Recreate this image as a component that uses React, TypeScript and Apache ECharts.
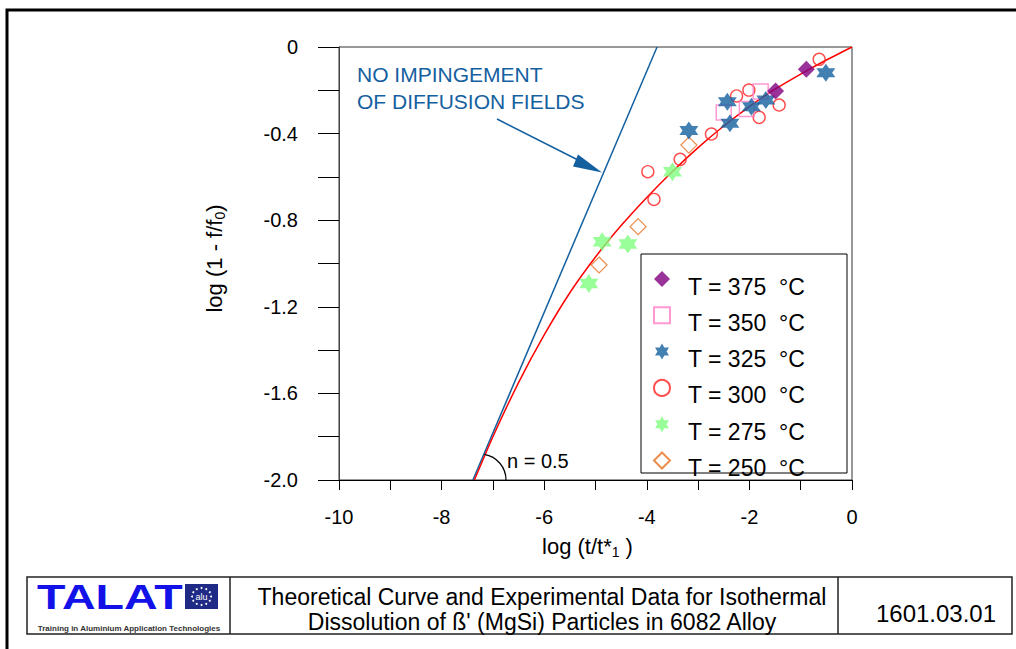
import React, { useEffect, useRef } from 'react';
import * as echarts from 'echarts';

// Theoretical curve
const curveX = [-7.36, -7.0, -6.5, -6.0, -5.5, -5.0, -4.5, -4.0, -3.5, -3.0, -2.5, -2.0, -1.5, -1.0, -0.5, 0];
const curveY = [-2.0, -1.8, -1.55, -1.33, -1.135, -0.97, -0.825, -0.695, -0.575, -0.465, -0.365, -0.275, -0.195, -0.125, -0.06, 0];
// "No impingement of diffusion fields" line
const impX = [-7.39, -3.8];
const impY = [-2.0, 0];

// Experimental data
const t375X = [-1.49, -0.89];
const t375Y = [-0.203, -0.103];
const t350X = [-2.5, -2.05, -1.78];
const t350Y = [-0.303, -0.286, -0.206];
const t325X = [-3.18, -2.43, -2.38, -1.96, -1.68, -0.51];
const t325Y = [-0.386, -0.253, -0.352, -0.276, -0.245, -0.119];
const t300X = [-3.98, -3.86, -3.35, -2.74, -2.25, -2.01, -1.81, -1.42, -0.64];
const t300Y = [-0.576, -0.704, -0.519, -0.402, -0.226, -0.199, -0.325, -0.268, -0.057];
const t275X = [-5.13, -4.87, -4.37, -3.5];
const t275Y = [-1.092, -0.899, -0.91, -0.576];
const t250X = [-4.93, -4.17, -3.18];
const t250Y = [-1.007, -0.83, -0.453];

const legendNames = ['T = 375 °C', 'T = 350 °C', 'T = 325 °C', 'T = 300 °C', 'T = 275 °C', 'T = 250 °C'];
const xTickLabels = ['-10', '-8', '-6', '-4', '-2', '0'];
const yTickLabels = ['0', '-0.4', '-0.8', '-1.2', '-1.6', '-2.0'];

const FONT = '"Liberation Sans", Arial, sans-serif';
const STAR = 'path://M0,-10L2.887,-5L8.66,-5L5.774,0L8.66,5L2.887,5L0,10L-2.887,5L-8.66,5L-5.774,0L-8.66,-5L-2.887,-5Z';
const BLUE = '#14609f';

const zip = (xs: number[], ys: number[]) => xs.map((x, i) => [x, ys[i]]);

function txt(text: string, x: number, y: number, font: string, fill: string, align = 'left', extra: any = {}) {
  return {
    type: 'text',
    silent: true,
    z: 20,
    ...extra,
    style: { text, x, y, font, fill, align, textAlign: align, verticalAlign: 'middle', textVerticalAlign: 'middle' },
  };
}

export default function App() {
  const ref = useRef<HTMLDivElement>(null);
  useEffect(() => {
    if (!ref.current) return;
    const chart = echarts.init(ref.current, null, { renderer: 'svg' });

    const stars: any[] = [];
    const cx = 201.5, cy = 596.5;
    for (let i = 0; i < 12; i++) {
      const a = (i / 12) * Math.PI * 2;
      stars.push({ type: 'circle', silent: true, z: 21, shape: { cx: cx + Math.cos(a) * 9.5, cy: cy + Math.sin(a) * 8.5, r: 1 }, style: { fill: '#ffffff' } });
    }

    const option: any = {
      animation: false,
      backgroundColor: '#ffffff',
      textStyle: { fontFamily: FONT },
      grid: { left: 339, top: 47, width: 513, height: 433, show: true, borderColor: '#333', borderWidth: 1, containLabel: false },
      xAxis: {
        type: 'value', min: -10, max: 0, interval: 1,
        axisLine: { onZero: false, lineStyle: { color: '#000', width: 1 } },
        axisTick: { show: true, length: 10, lineStyle: { color: '#000' } },
        splitLine: { show: false },
        axisLabel: {
          fontSize: 20, color: '#000', fontFamily: FONT, margin: 27,
          formatter: (v: number) => { const s = String(Math.round(v)); return xTickLabels.includes(s) ? s : ''; },
        },
        name: 'log (t/t*{sub|1} )', nameLocation: 'middle', nameGap: 54,
        nameTextStyle: {
          fontSize: 22, color: '#000', fontFamily: FONT, lineHeight: 24, padding: [0, 16, 0, 0],
          rich: { sub: { fontSize: 14, lineHeight: 14, padding: [11, 0, 0, 0], fontFamily: FONT, color: '#000' } },
        },
      },
      yAxis: {
        type: 'value', min: -2, max: 0, interval: 0.2,
        axisLine: { onZero: false, lineStyle: { color: '#444', width: 1 } },
        axisTick: { show: true, length: 21, lineStyle: { color: '#000' } },
        splitLine: { show: false },
        axisLabel: {
          fontSize: 20, color: '#000', fontFamily: FONT, margin: 41,
          formatter: (v: number) => {
            const r = Math.round(v * 10) / 10;
            const s = r === 0 ? '0' : r.toFixed(1);
            return yTickLabels.includes(s) ? s : '';
          },
        },
        name: 'log (1 - f/f{sub|0})', nameLocation: 'middle', nameGap: 113, nameRotate: 90,
        nameTextStyle: {
          fontSize: 22, color: '#000', fontFamily: FONT, lineHeight: 24, padding: [0, 0, 0, 10],
          rich: { sub: { fontSize: 14, lineHeight: 14, padding: [11, 0, 0, 0], fontFamily: FONT, color: '#000' } },
        },
      },
      legend: {
        show: true, orient: 'vertical', left: 653, top: 260, padding: 0, z: 6,
        itemWidth: 16, itemHeight: 16, itemGap: -1.7,
        data: legendNames,
        formatter: (n: string) => '{a|' + n.replace(' °C', '\u00A0\u00A0°C') + '}',
        textStyle: {
          color: '#000', fontFamily: FONT, fontSize: 23,
          rich: { a: { fontSize: 23, lineHeight: 20, color: '#000', fontFamily: FONT, padding: [15, 0, 0, 13] } },
        },
      },
      series: [
        { type: 'line', name: 'impingement', data: zip(impX, impY), showSymbol: false, symbol: 'none', silent: true, z: 2,
          lineStyle: { color: BLUE, width: 1.5 } },
        { type: 'line', name: 'theory', data: zip(curveX, curveY), showSymbol: false, symbol: 'none', silent: true, smooth: 0.2, z: 3,
          lineStyle: { color: '#ff0000', width: 1.5 } },
        { type: 'scatter', name: legendNames[5], data: zip(t250X, t250Y), symbol: 'diamond', symbolSize: 16, z: 4,
          itemStyle: { color: 'rgba(0,0,0,0)', borderColor: '#e8701e', borderWidth: 1.2 } },
        { type: 'scatter', name: legendNames[4], data: zip(t275X, t275Y), symbol: STAR, symbolSize: [19, 19], z: 4,
          itemStyle: { color: '#80ff80' } },
        { type: 'scatter', name: legendNames[3], data: zip(t300X, t300Y), symbol: 'circle', symbolSize: 12, z: 4,
          itemStyle: { color: 'rgba(0,0,0,0)', borderColor: '#ff2020', borderWidth: 1.4 } },
        { type: 'scatter', name: legendNames[1], data: zip(t350X, t350Y), symbol: 'rect', symbolSize: 15, z: 4,
          itemStyle: { color: 'rgba(0,0,0,0)', borderColor: '#ff80c8', borderWidth: 1.5 } },
        { type: 'scatter', name: legendNames[2], data: zip(t325X, t325Y), symbol: STAR, symbolSize: [19, 18], z: 5,
          itemStyle: { color: BLUE } },
        { type: 'scatter', name: legendNames[0], data: zip(t375X, t375Y), symbol: 'diamond', symbolSize: 17, z: 5,
          itemStyle: { color: '#800080' } },
      ],
      graphic: [
        // outer frame
        { type: 'rect', silent: true, z: 1, shape: { x: 7, y: 10, width: 1030, height: 700 }, style: { fill: 'none', stroke: '#000', lineWidth: 3 } },
        // legend box
        { type: 'rect', silent: true, z: 3, shape: { x: 641, y: 254, width: 206, height: 219 }, style: { fill: '#fff', stroke: '#000', lineWidth: 1 } },
        // annotation
        txt('NO IMPINGEMENT', 357, 74, '21px ' + FONT, BLUE),
        txt('OF DIFFUSION FIELDS', 357, 101, '21px ' + FONT, BLUE),
        { type: 'line', silent: true, z: 20, shape: { x1: 497, y1: 119, x2: 578, y2: 160 }, style: { stroke: BLUE, lineWidth: 1.5 } },
        { type: 'polygon', silent: true, z: 20, shape: { points: [[602, 172.5], [573, 166.5], [578, 154.5]] }, style: { fill: BLUE } },
        { type: 'arc', silent: true, z: 20, shape: { cx: 480, cy: 480, r: 26, startAngle: -1.4, endAngle: 0, clockwise: true }, style: { fill: 'none', stroke: '#000', lineWidth: 1.2 } },
        txt('n = 0.5', 507, 461, '20px ' + FONT, '#000'),
        // footer
        { type: 'rect', silent: true, z: 19, shape: { x: 27, y: 577, width: 985, height: 57 }, style: { fill: '#fff', stroke: '#222', lineWidth: 1.5 } },
        { type: 'line', silent: true, z: 20, shape: { x1: 230, y1: 577, x2: 230, y2: 634 }, style: { stroke: '#222', lineWidth: 1.5 } },
        { type: 'line', silent: true, z: 20, shape: { x1: 838, y1: 577, x2: 838, y2: 634 }, style: { stroke: '#222', lineWidth: 1.5 } },
        txt('TALAT', 37, 597.5, 'bold 35px ' + FONT, '#1212e8', 'left', { scaleX: 1.33, originX: 37, originY: 597.5 }),
        { type: 'rect', silent: true, z: 20, shape: { x: 185, y: 584, width: 33, height: 25 }, style: { fill: '#1e2a86' } },
        ...stars,
        txt('alu', 201.5, 597, '9px ' + FONT, '#ffffff', 'center'),
        txt('Training in Aluminium Application Technologies', 129, 628, 'bold 8px ' + FONT, '#333', 'center'),
        txt('Theoretical Curve and Experimental Data for Isothermal', 542, 597, '23px ' + FONT, '#000', 'center'),
        txt("Dissolution of ß' (MgSi) Particles in 6082 Alloy", 542, 622, '23px ' + FONT, '#000', 'center'),
        txt('1601.03.01', 936, 613, '24px ' + FONT, '#000', 'center'),
      ],
    };
    chart.setOption(option);
    return () => chart.dispose();
  }, []);
  return <div ref={ref} style={{ position: 'absolute', left: 0, top: 0, width: 1016, height: 649 }} />;
}
